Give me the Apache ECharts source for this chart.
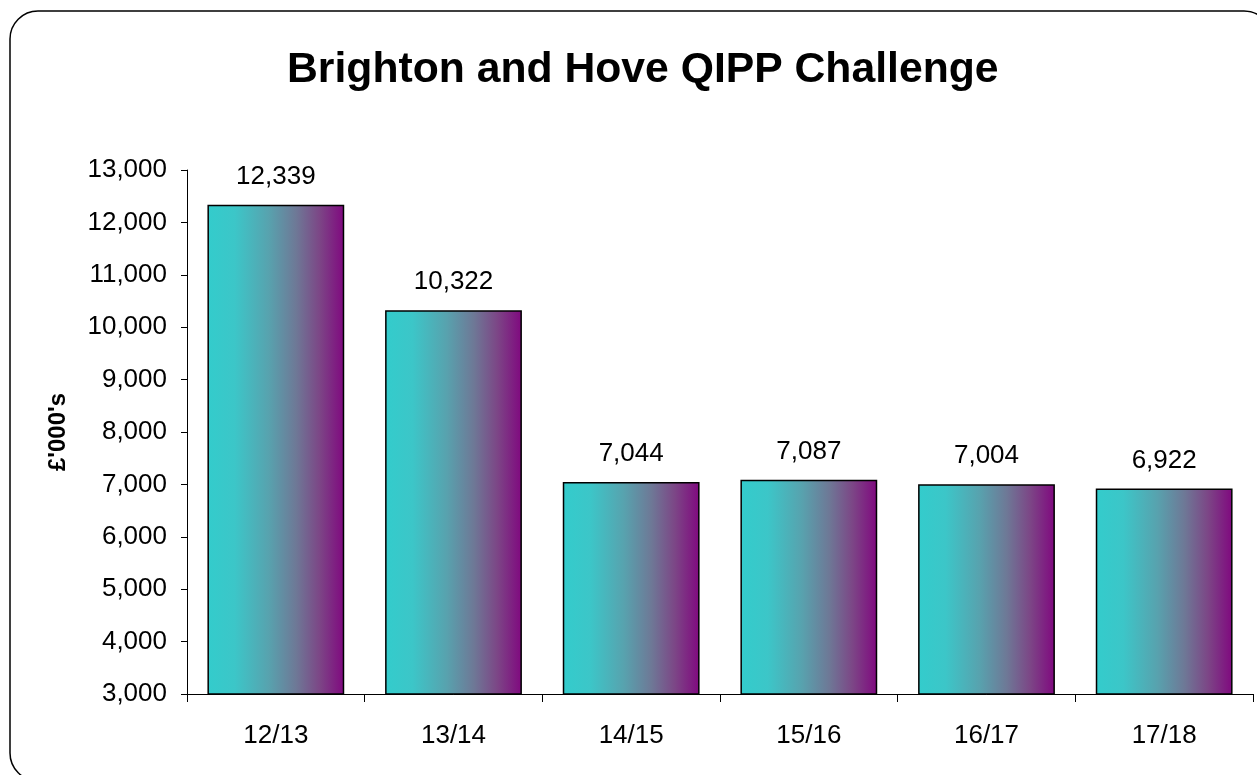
<!DOCTYPE html>
<html>
<head>
<meta charset="utf-8">
<script src="https://cdn.jsdelivr.net/npm/echarts@6/dist/echarts.min.js"></script>
<style>
html,body{margin:0;padding:0;background:#fff;}
#chart{width:1257px;height:775px;}
</style>
</head>
<body>
<div id="chart"></div>
<script>
const titleText = "Brighton and Hove QIPP Challenge";
const categories = ["12/13", "13/14", "14/15", "15/16", "16/17", "17/18"];
const values = [12339, 10322, 7044, 7087, 7004, 6922];
const yAxisName = "£'000's";
const yMin = 3000, yMax = 13000, yStep = 1000;

const chart = echarts.init(document.getElementById('chart'));
const fmt = v => v.toLocaleString('en-GB');
const grad = new echarts.graphic.LinearGradient(0, 0, 1, 0, [
  {offset: 0, color: '#33CCCC'},
  {offset: 0.2, color: '#3CC6C8'},
  {offset: 0.45, color: '#58A2AE'},
  {offset: 0.65, color: '#6E7896'},
  {offset: 0.82, color: '#7C4686'},
  {offset: 1, color: '#80087F'}
]);
chart.setOption({
  animation: false,
  backgroundColor: '#fff',
  title: {
    text: titleText,
    left: 282,
    top: 44,
    textStyle: {fontFamily: 'Liberation Sans', fontWeight: 'bold', fontSize: 42.7, color: '#000'}
  },
  graphic: [{
    type: 'rect',
    shape: {x: 10, y: 11, width: 1262, height: 770, r: 28},
    style: {fill: 'none', stroke: '#000', lineWidth: 1.5},
    silent: true, z: -1
  }],
  grid: {left: 187, top: 170, right: 4, bottom: 81, containLabel: false},
  xAxis: {
    type: 'category',
    data: categories,
    axisLine: {lineStyle: {color: '#000', width: 1}},
    axisTick: {show: true, length: 8, lineStyle: {color: '#000'}, alignWithLabel: false},
    axisLabel: {fontFamily: 'Liberation Sans', fontSize: 26, color: '#000', margin: 29}
  },
  yAxis: {
    type: 'value',
    min: yMin, max: yMax, interval: yStep,
    name: yAxisName,
    nameLocation: 'middle',
    nameRotate: 90,
    nameGap: 117,
    nameTextStyle: {fontFamily: 'Liberation Sans', fontWeight: 'bold', fontSize: 24, color: '#000'},
    axisLine: {show: true, lineStyle: {color: '#000', width: 1}},
    axisTick: {show: true, length: 6, inside: false, lineStyle: {color: '#000'}},
    splitLine: {show: false},
    axisLabel: {fontFamily: 'Liberation Sans', fontSize: 26, color: '#000', margin: 20, formatter: v => fmt(v)}
  },
  series: [{
    type: 'bar',
    data: values,
    barCategoryGap: '23%',
    itemStyle: {color: grad, borderColor: '#000', borderWidth: 1.5},
    label: {
      show: true, position: 'top', distance: 15,
      fontFamily: 'Liberation Sans', fontSize: 26, color: '#000',
      formatter: p => fmt(p.value)
    }
  }]
});
</script>
</body>
</html>
